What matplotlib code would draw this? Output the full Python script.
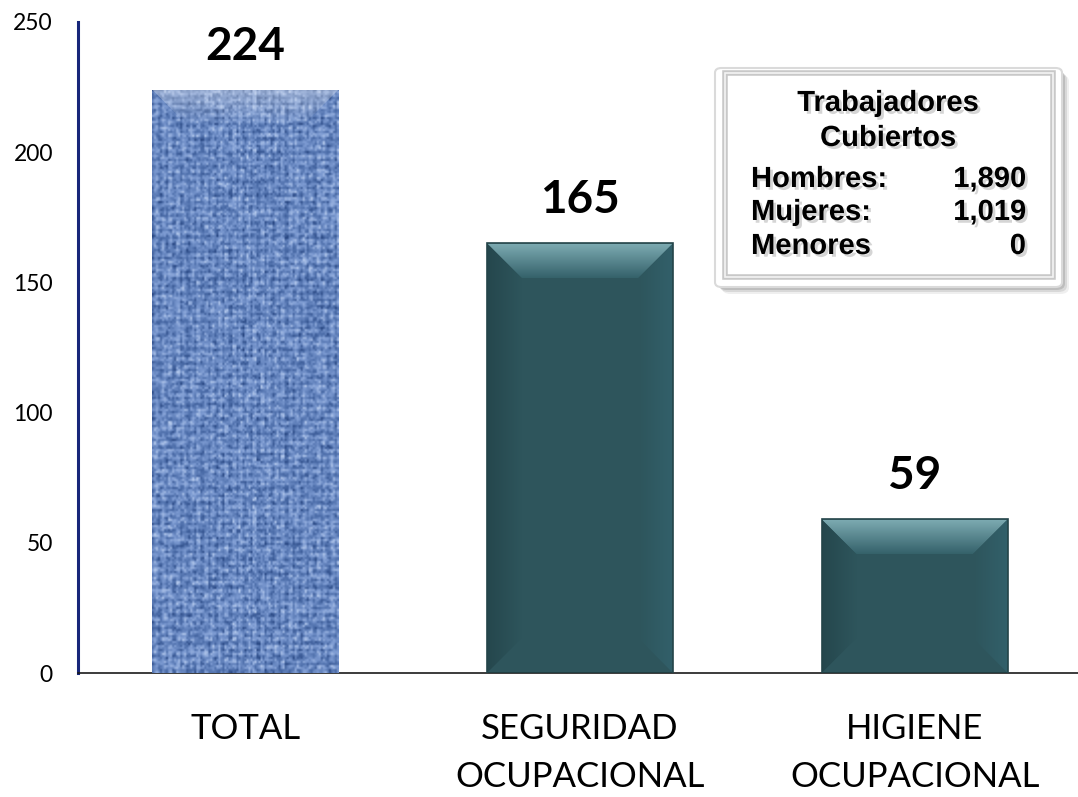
import numpy as np
import matplotlib
matplotlib.use('Agg')
import matplotlib.pyplot as plt
from matplotlib.patches import Polygon, FancyBboxPatch, Rectangle
from matplotlib.colors import LinearSegmentedColormap
import matplotlib.patheffects as pe

categories = ['TOTAL', 'SEGURIDAD\nOCUPACIONAL', 'HIGIENE\nOCUPACIONAL']
values = [224, 165, 59]
yticks = [0, 50, 100, 150, 200, 250]
box_title = ['Trabajadores', 'Cubiertos']
box_labels = ['Hombres:', 'Mujeres:', 'Menores']
box_values = ['1,890', '1,019', '0']

W, H = 1078, 797
fig = plt.figure(figsize=(W / 100, H / 100), dpi=100)
ax = fig.add_axes([78 / W, 1 - 673 / H, (1082 - 78) / W, (673 - 22) / H])
ax.set_xlim(-0.5, 2.5)
ax.set_ylim(0, 250)
ax.set_facecolor('none')

x = np.arange(len(values))
bw = 0.556
colors = ['#7592c8', '#2e555c', '#2e555c']
bars = ax.bar(x, values, width=bw, color=colors, edgecolor='none', zorder=2)

# pixel -> data scale
ux = 3 / 1004.0
uy = 250 / 651.0
bev = 35

def grad_fill(poly, c0, c1, direction, extent):
    cmap = LinearSegmentedColormap.from_list('g', [c0, c1])
    g = np.linspace(0, 1, 256)
    if direction == 'v':
        arr = g[:, None] * np.ones((1, 2))
    else:
        arr = np.ones((2, 1)) * g[None, :]
    im = ax.imshow(arr, cmap=cmap, extent=extent, origin='upper' if direction == 'v' else 'lower',
                   aspect='auto', zorder=3, interpolation='bilinear')
    im.set_clip_path(poly)

for i, (b, v) in enumerate(zip(bars, values)):
    xl = b.get_x()
    xr = xl + b.get_width()
    top = b.get_height()
    bx = bev * ux
    by = bev * uy
    if i == 0:
        # woven fabric texture (deterministic hash pattern)
        cell = 2
        nx = int(round(b.get_width() / ux / cell))
        ny = int(round(top / uy / cell))
        jj, ii = np.meshgrid(np.arange(nx), np.arange(ny))
        hsh = np.sin(ii * 12.9898 + jj * 78.233) * 43758.5453
        noise = hsh - np.floor(hsh)
        hsh2 = np.sin((ii // 2) * 39.346 + (jj // 2) * 11.135) * 24634.6345
        noise2 = hsh2 - np.floor(hsh2)
        hline = (np.cos(2 * np.pi * ii / 3.5) > 0.6).astype(float)
        vline = (np.cos(2 * np.pi * jj / 3.5) > 0.6).astype(float)
        val = 0.35 * noise + 0.35 * noise2 + 0.15 * (1 - hline) + 0.15 * (1 - vline)
        cmap = LinearSegmentedColormap.from_list('tex', ['#23417c', '#4d6eaa', '#7d9bd2', '#b9cdee'])
        im = ax.imshow(val, cmap=cmap, extent=(xl, xr, 0, top), origin='upper',
                       aspect='auto', zorder=3, interpolation='bilinear')
        im.set_clip_path(b)
        topp = Polygon([(xl, top), (xr, top), (xr - bx, top - by), (xl + bx, top - by)],
                       closed=True, transform=ax.transData, facecolor='none', edgecolor='none')
        ax.add_patch(topp)
        cmap2 = LinearSegmentedColormap.from_list('w', [(1, 1, 1, 0.35), (1, 1, 1, 0.0)])
        im2 = ax.imshow(np.linspace(0, 1, 64)[:, None] * np.ones((1, 2)), cmap=cmap2,
                        extent=(xl, xr, top - by, top), origin='upper', aspect='auto', zorder=4)
        im2.set_clip_path(topp)
    else:
        mid_y = min(by, top / 2)
        polys = {
            'top': [(xl, top), (xr, top), (xr - bx, top - by), (xl + bx, top - by)],
            'left': [(xl, top), (xl + bx, top - by), (xl + bx, mid_y), (xl, 0)],
            'right': [(xr, top), (xr - bx, top - by), (xr - bx, mid_y), (xr, 0)],
        }
        p = Polygon(polys['top'], closed=True, facecolor='none', edgecolor='none', transform=ax.transData)
        ax.add_patch(p)
        grad_fill(p, '#7eacb3', '#34616a', 'v', (xl, xr, top - by, top))
        p = Polygon(polys['left'], closed=True, facecolor='none', edgecolor='none', transform=ax.transData)
        ax.add_patch(p)
        grad_fill(p, '#25474d', '#2e555c', 'h', (xl, xl + bx, 0, top))
        p = Polygon(polys['right'], closed=True, facecolor='none', edgecolor='none', transform=ax.transData)
        ax.add_patch(p)
        grad_fill(p, '#2e555c', '#32606a', 'h', (xr - bx, xr, 0, top))
        ax.add_patch(Rectangle((xl, 0), xr - xl, top, facecolor='none', edgecolor='#244449',
                               lw=1.2, zorder=5))

for xi, v in zip(x, values):
    ax.annotate(str(v), (xi, v), xytext=(0, 31), textcoords='offset points',
                ha='center', va='center', fontsize=33, fontweight='bold',
                family='Lato', color='black', zorder=6)

ax.set_xticks(x)
ax.set_xticklabels(categories, family='Lato', fontsize=25, linespacing=1.6)
ax.set_yticks(yticks)
ax.set_yticklabels([str(t) for t in yticks], family='Lato', fontsize=16.5)
ax.tick_params(axis='x', length=0, pad=29)
ax.tick_params(axis='y', length=0, pad=18)
for s in ['top', 'right']:
    ax.spines[s].set_visible(False)
ax.spines['left'].set_color('#17267a')
ax.spines['left'].set_linewidth(2.2)
ax.spines['bottom'].set_color('#1a1a1a')
ax.spines['bottom'].set_linewidth(1.2)

# info box (figure pixel coordinates)
def fx(px):
    return px / W

def fy(py):
    return 1 - py / H

for k, (dx, a) in enumerate([(7, 0.12), (5, 0.2), (3, 0.3)]):
    sh = FancyBboxPatch((fx(715 + dx), fy(287 + dx)), fx(1062) - fx(715), fy(68) - fy(287),
                        boxstyle='round,pad=0,rounding_size=0.008', transform=fig.transFigure,
                        facecolor='#808080', edgecolor='none', alpha=a, zorder=10)
    fig.patches.append(sh)
outer = FancyBboxPatch((fx(715), fy(287)), fx(1062) - fx(715), fy(68) - fy(287),
                       boxstyle='round,pad=0,rounding_size=0.006', transform=fig.transFigure,
                       facecolor='white', edgecolor='#dadada', lw=1.5, zorder=11)
fig.patches.append(outer)
inner = Rectangle((fx(725), fy(277)), fx(1053) - fx(725), fy(73) - fy(277),
                  transform=fig.transFigure, facecolor='none', edgecolor='#c8c8c8', lw=4, zorder=12)
fig.patches.append(inner)
inner2 = Rectangle((fx(725), fy(277)), fx(1053) - fx(725), fy(73) - fy(277),
                   transform=fig.transFigure, facecolor='none', edgecolor='#f4f4f4', lw=1.2, zorder=13)
fig.patches.append(inner2)

txt_fx = [pe.SimplePatchShadow(offset=(2, -2), shadow_rgbFace='#777777', alpha=0.3), pe.Normal()]
tkw = dict(family='Liberation Sans', fontweight='bold', fontsize=21, color='black',
           va='baseline', transform=fig.transFigure, zorder=20, path_effects=txt_fx)
for t, by_ in zip(box_title, [111, 146]):
    fig.text(fx(888), fy(by_), t, ha='center', **tkw)
for lab, val, by_ in zip(box_labels, box_values, [187, 220, 254]):
    fig.text(fx(751), fy(by_), lab, ha='left', **tkw)
    fig.text(fx(1026), fy(by_), val, ha='right', **tkw)

fig.savefig('out.png', dpi=100)
